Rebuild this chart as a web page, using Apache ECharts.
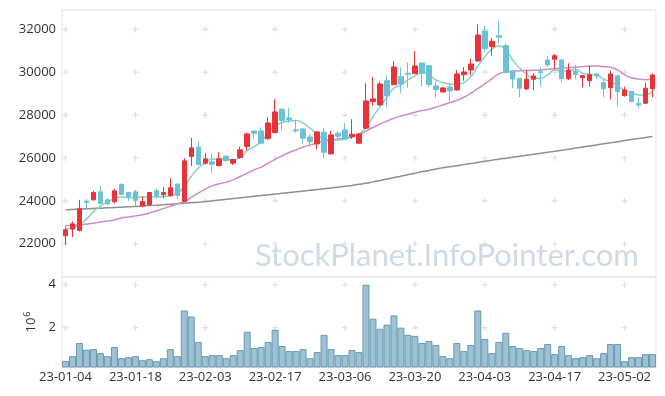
<!DOCTYPE html>
<html>
<head>
<meta charset="utf-8">
<script src="https://cdn.jsdelivr.net/npm/echarts@6/dist/echarts.min.js"></script>
<style>html,body{margin:0;padding:0;background:#fff}#c{width:665px;height:396px}</style>
</head>
<body>
<div id="c"></div>
<script>
var dates = ['23-01-04','23-01-05','23-01-06','23-01-09','23-01-10','23-01-11','23-01-12','23-01-13','23-01-16','23-01-17',
'23-01-18','23-01-19','23-01-20','23-01-25','23-01-26','23-01-27','23-01-30','23-01-31',
'23-02-01','23-02-02','23-02-03','23-02-06','23-02-07','23-02-08','23-02-09','23-02-10','23-02-13','23-02-14','23-02-15','23-02-16',
'23-02-17','23-02-20','23-02-21','23-02-22','23-02-23','23-02-24','23-02-27','23-02-28',
'23-03-02','23-03-03','23-03-06','23-03-07','23-03-08','23-03-09','23-03-10','23-03-13','23-03-14','23-03-15','23-03-16','23-03-17',
'23-03-20','23-03-21','23-03-22','23-03-23','23-03-24','23-03-27','23-03-28','23-03-29','23-03-30','23-03-31',
'23-04-03','23-04-04','23-04-05','23-04-06','23-04-07','23-04-10','23-04-11','23-04-12','23-04-13','23-04-14',
'23-04-17','23-04-18','23-04-19','23-04-20','23-04-21','23-04-24','23-04-25','23-04-26','23-04-27','23-04-28',
'23-05-02','23-05-03','23-05-04','23-05-08','23-05-09'];

var openP  = [22371,22683,22619,23988,24049,24421,24049,23956,24762,24389,24421,23769,23830,24468,24296,24235,24780,23970,26066,26504,
25758,25819,25647,26085,25758,26019,26532,27263,27263,26904,27184,28272,27868,27309,27356,26983,26657,27202,26192,27156,
27309,26997,26690,27389,28628,28474,29606,29419,29792,29950,29932,30430,30305,29359,29080,29312,29173,29886,30104,30523,
31921,31190,31702,31236,30057,29717,29220,29671,30025,30570,30603,30570,29699,30057,29746,29606,29918,29513,29280,29825,
28907,29094,28552,28553,29233];
var closeP = [22651,22930,23630,23923,24389,23877,23863,24468,24296,24188,24035,23970,24389,24221,24389,24608,24250,25866,26471,25693,
25958,25711,25958,25880,25926,26378,27123,27156,26690,27635,28148,27743,27775,27263,26920,26765,27216,26271,27077,27016,
26904,27109,27123,28661,28754,29452,28907,30244,29452,29904,30291,29950,29420,29187,29266,29126,29918,30010,30384,31735,
31096,31441,31627,29978,29685,29252,29671,29825,29978,30337,30770,29699,30104,29886,29839,29886,29825,29233,29918,29094,
29173,28628,28474,29252,29871];
var lowP   = [21953,22311,22572,23615,24016,23863,23769,23877,24268,24002,23769,23709,23800,24081,24128,24203,24095,23942,25633,25665,
25679,25292,25600,25819,25679,25958,26345,26923,26657,26843,27156,27277,27650,27184,26650,26532,26410,25991,26145,26876,
26890,26890,26650,27340,28427,28427,28395,29392,29033,29266,29932,29345,29300,28814,29050,28627,29140,29606,29858,30490,
30930,30770,31348,29978,29252,28833,29173,29173,29333,30258,30137,29514,29638,29671,29298,29327,29671,28832,28739,28427,
28860,28600,28320,28520,28832];
var highP  = [22805,23038,24049,24081,24468,24701,24128,24561,24827,24421,24514,24203,24421,24575,24640,25060,24827,25991,26937,26750,
26224,26224,26271,26100,25958,26532,27184,27263,27435,27901,28739,28320,28348,27775,27400,27123,27249,27388,27263,27263,
27621,27808,27150,29484,29780,29560,29871,30523,30230,30463,30989,30430,30305,29592,29300,29484,30104,30230,30630,32214,
32154,31580,32387,31315,30090,29730,30104,29950,30230,30756,30849,30603,30416,30337,29870,30305,29980,29638,30072,29886,
29327,29094,28832,29513,29950];

var ma5 = [22690,22740,22880,23150,23500,23750,23940,24110,24180,24150,24170,24180,24185,24190,24203,24250,24360,24670,25135,25525,
25787,25958,25958,25945,25912,26038,26345,26532,26750,27156,27496,27650,27715,27743,27621,27388,27109,26890,26843,26843,
26876,26970,27109,27435,27929,28395,28832,29252,29406,29638,29825,29980,29871,29638,29513,29452,29420,29513,29792,30290,
30724,31068,31236,31036,30570,30184,29900,29717,29717,29871,30104,30060,30072,30137,29950,29904,29871,29671,29560,29359,
29173,29066,28940,28940,29120];
var ma20 = [22850,22860,22880,22920,22960,23010,23060,23110,23200,23250,23300,23350,23430,23530,23640,23750,23860,23960,24160,24360,
24550,24700,24794,24873,24980,25135,25292,25446,25572,25758,25945,26100,26253,26378,26504,26610,26690,26780,26843,26890,
26930,26990,27080,27250,27420,27580,27720,27850,27960,28040,28133,28208,28274,28367,28474,28581,28690,28832,29019,29233,
29452,29685,29918,30010,30044,30072,30080,30090,30104,30137,30160,30183,30212,30230,30258,30290,30290,30258,30230,30104,
29880,29740,29680,29650,29690];
var ma120 = [23583,23600,23615,23630,23645,23660,23675,23690,23705,23720,23740,23760,23780,23800,23822,23845,23868,23890,23912,23935,
23965,24000,24035,24070,24105,24140,24175,24210,24245,24280,24315,24350,24385,24420,24455,24490,24525,24560,24600,24640,
24680,24720,24770,24820,24885,24950,25020,25085,25150,25220,25290,25355,25420,25490,25540,25590,25640,25690,25740,25790,
25845,25895,25945,25990,26035,26080,26125,26170,26215,26262,26310,26360,26410,26460,26510,26560,26610,26660,26710,26760,
26810,26860,26910,26955,27000];
// volume in millions of shares
var vol = [0.454,0.675,1.289,0.974,1.005,0.816,0.675,1.100,0.580,0.627,0.675,0.485,0.533,0.438,0.580,1.005,0.675,2.800,2.520,1.337,
0.675,0.722,0.722,0.580,0.722,0.958,1.810,1.053,1.100,1.337,1.904,1.147,0.911,0.911,1.005,0.580,0.864,1.667,1.005,0.722,
0.722,0.958,0.864,4.000,2.420,1.950,2.140,2.570,2.000,1.667,1.620,1.290,1.380,1.195,0.675,0.580,1.290,0.911,1.195,2.800,
1.478,0.816,1.337,1.762,1.147,1.053,0.958,0.911,1.053,1.242,0.770,1.147,0.722,0.580,0.627,0.722,0.580,0.816,1.242,1.242,
0.438,0.627,0.627,0.770,0.770];

var labelEvery = 10;
var priceTicks = [22000,24000,26000,28000,30000,32000];
var volTicks = [2,4];

var FONT = "'Open Sans', sans-serif";
var WM_FONT = "Lato, 'Open Sans', sans-serif";
var UP = '#e8333b', DOWN = '#6cc1d6';

var kData = dates.map(function(d,i){ return [openP[i], closeP[i], lowP[i], highP[i]]; });
var markIdx = [];
for (var i = 0; i < dates.length; i += labelEvery) markIdx.push(i);
var crossMain = [], crossVol = [];
markIdx.forEach(function(ix){
  priceTicks.forEach(function(p){ crossMain.push([ix, p]); });
  volTicks.forEach(function(v){ crossVol.push([ix, v]); });
});
var plusSym = 'path://M2,0H3V2H5V3H3V5H2V3H0V2H2Z';

var chart = echarts.init(document.getElementById('c'), null, {renderer:'canvas'});
chart.setOption({
  animation: false,
  backgroundColor: '#fff',
  textStyle: {fontFamily: FONT},
  grid: [
    {left: 62, right: 9, top: 10, height: 267, show: true, borderColor: '#e4e4e4', borderWidth: 1},
    {left: 62, right: 9, top: 277, height: 90, show: true, borderColor: '#e4e4e4', borderWidth: 1}
  ],
  xAxis: [
    {type: 'category', gridIndex: 0, data: dates, boundaryGap: true,
     axisLine: {show: false}, axisTick: {show: false}, axisLabel: {show: false}, splitLine: {show: false}},
    {type: 'category', gridIndex: 1, data: dates, boundaryGap: true,
     axisLine: {show: false}, axisTick: {show: false}, splitLine: {show: false},
     axisLabel: {interval: labelEvery - 1, fontSize: 13, color: '#333', margin: 4, fontFamily: FONT}}
  ],
  yAxis: [
    {type: 'value', gridIndex: 0, min: 20450, max: 32900, splitNumber: 5,
     axisLine: {show: false}, axisTick: {show: false}, splitLine: {show: false},
     axisLabel: {fontSize: 13, color: '#333', margin: 6, fontFamily: FONT,
       formatter: function(v){ return priceTicks.indexOf(Math.round(v)) >= 0 && Math.abs(v - Math.round(v)) < 1e-6 ? String(Math.round(v)) : ''; }}},
    {type: 'value', gridIndex: 1, min: 0.17, max: 4.36, splitNumber: 2,
     axisLine: {show: false}, axisTick: {show: false}, splitLine: {show: false},
     axisLabel: {fontSize: 13, color: '#333', margin: 6, fontFamily: FONT,
       formatter: function(v){ var r = Math.round(v); return (Math.abs(v - r) < 1e-6 && volTicks.indexOf(r) >= 0) ? String(r) : ''; }},
     name: '{a|10}{b|6}', nameLocation: 'middle', nameRotate: 90, nameGap: 15,
     nameTextStyle: {rich: {a: {fontSize: 13, color: '#333', fontFamily: FONT, lineHeight: 16},
                            b: {fontSize: 9, color: '#333', fontFamily: FONT, verticalAlign: 'top', padding: [0,0,7,1]}}}}
  ],
  graphic: [{
    type: 'text', left: 255, top: 240, z: 0, silent: true,
    style: {text: 'StockPlanet.InfoPointer.com', fontSize: 31, fontFamily: WM_FONT, fill: '#cddce8'}
  }],
  series: [
    {type: 'scatter', xAxisIndex: 0, yAxisIndex: 0, data: crossMain, symbol: plusSym, symbolSize: 6,
     itemStyle: {color: '#d8d8d8'}, silent: true, z: 1},
    {type: 'scatter', xAxisIndex: 1, yAxisIndex: 1, data: crossVol, symbol: plusSym, symbolSize: 6,
     itemStyle: {color: '#d8d8d8'}, silent: true, z: 1},
    {type: 'line', xAxisIndex: 0, yAxisIndex: 0, data: ma120, symbol: 'none', smooth: true,
     lineStyle: {color: '#8f8f8f', width: 1.5}, z: 3},
    {type: 'line', xAxisIndex: 0, yAxisIndex: 0, data: ma20, symbol: 'none', smooth: true,
     lineStyle: {color: '#cc8cc8', width: 1.5}, z: 3},
    {type: 'line', xAxisIndex: 0, yAxisIndex: 0, data: ma5, symbol: 'none', smooth: true,
     lineStyle: {color: '#88cfc4', width: 1.5}, z: 3},
    {type: 'candlestick', xAxisIndex: 0, yAxisIndex: 0, data: kData, barWidth: 5,
     itemStyle: {color: UP, color0: DOWN, borderColor: UP, borderColor0: DOWN, borderWidth: 1}, z: 4},
    {type: 'bar', xAxisIndex: 1, yAxisIndex: 1, data: vol, barCategoryGap: '0%',
     itemStyle: {color: '#9cc2d3', borderColor: '#6b98b1', borderWidth: 1}, z: 2}
  ]
});
</script>
</body>
</html>
